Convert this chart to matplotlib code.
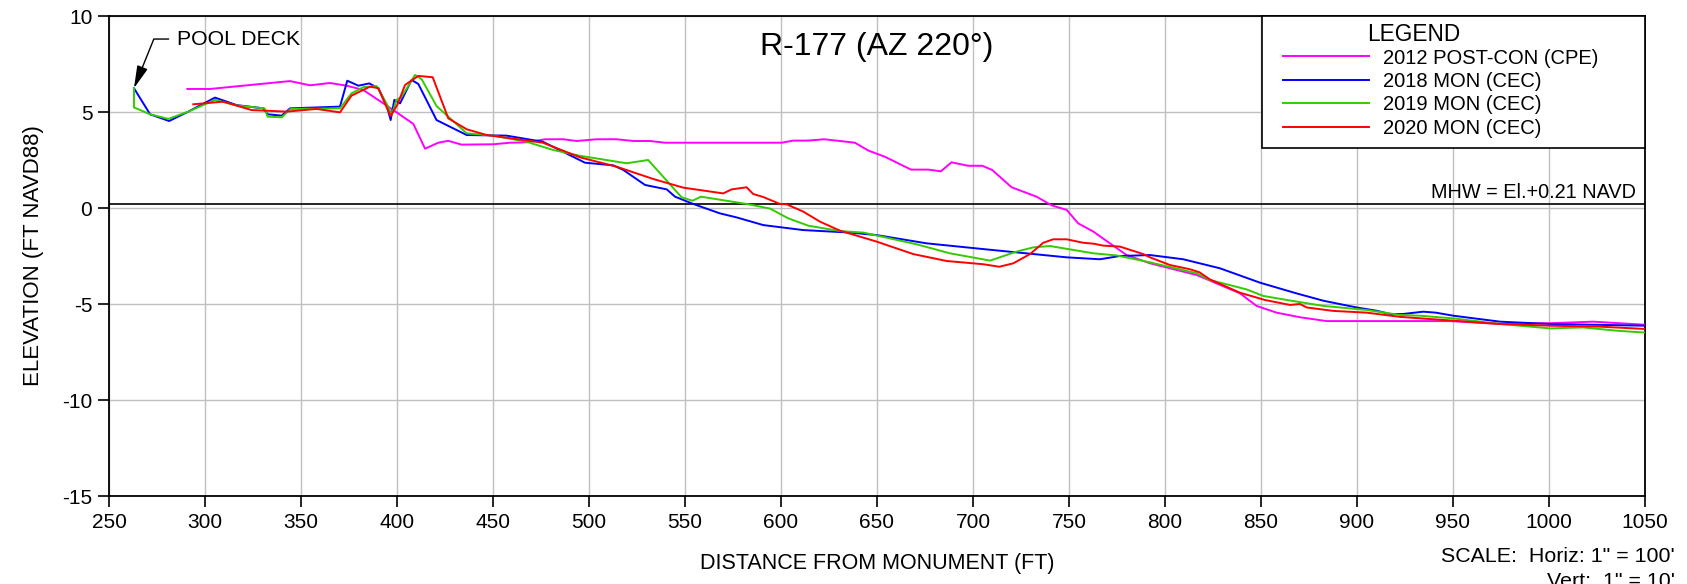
import numpy as np
import matplotlib
matplotlib.use("Agg")
import matplotlib.pyplot as plt
from matplotlib.patches import Rectangle

plt.rcParams["font.family"] = ["Liberation Sans", "DejaVu Sans"]
plt.rcParams["axes.unicode_minus"] = False

# DATA (distance ft, elevation ft NAVD88)
x_2012 = [290.8, 302.6, 344.3, 354.7, 365.1, 373.8, 382.4, 398.1, 408.5, 414.6, 421.5, 426.7,
          433.6, 450.2, 458.9, 467.5, 477.1, 486.7, 493.6, 504.0, 514.4, 523.1, 531.8, 539.6,
          600.3, 606.4, 614.2, 622.4, 630.7, 638.5, 645.5, 654.1, 667.7, 676.7, 683.3, 688.8,
          697.5, 704.8, 710.0, 720.1, 733.1, 740.9, 748.8, 754.8, 762.7, 771.3, 780.0, 792.2,
          816.5, 839.0, 847.7, 858.1, 870.3, 884.2, 948.4, 974.5, 1000.5, 1023.0, 1050.0]
y_2012 = [6.2, 6.2, 6.61, 6.39, 6.51, 6.37, 6.15, 5.1, 4.38, 3.09, 3.4, 3.5,
          3.3, 3.32, 3.4, 3.42, 3.58, 3.58, 3.49, 3.58, 3.58, 3.49, 3.49, 3.4,
          3.4, 3.51, 3.51, 3.58, 3.49, 3.4, 2.99, 2.67, 2.0, 2.0, 1.91, 2.38,
          2.2, 2.2, 1.98, 1.08, 0.59, 0.14, -0.1, -0.8, -1.23, -1.84, -2.45, -2.88,
          -3.49, -4.44, -5.1, -5.45, -5.69, -5.89, -5.89, -6.04, -6.0, -5.92, -6.08]

x_2018 = [263.0, 271.4, 281.3, 291.3, 305.2, 316.5, 330.4, 332.6, 339.9, 344.3, 370.3, 374.1,
          379.9, 385.6, 390.3, 394.6, 396.7, 398.6, 401.6, 407.6, 411.1, 420.6, 436.3, 457.0,
          476.0, 497.9, 512.7, 517.9, 529.2, 540.5, 544.8, 554.3, 568.2, 576.9, 590.8, 611.6,
          635.9, 649.8, 675.8, 705.4, 748.8, 766.1, 776.5, 792.2, 809.5, 828.6, 849.5, 868.6,
          882.5, 899.8, 910.2, 917.2, 924.0, 934.5, 941.0, 950.2, 974.5, 1000.5, 1050.0]
y_2018 = [6.24, 4.88, 4.53, 5.02, 5.75, 5.36, 5.19, 4.88, 4.81, 5.19, 5.28, 6.63,
          6.37, 6.49, 6.23, 5.36, 4.58, 5.63, 5.45, 6.67, 6.46, 4.58, 3.8, 3.77,
          3.45, 2.36, 2.22, 1.98, 1.2, 0.97, 0.59, 0.21, -0.28, -0.49, -0.89, -1.15,
          -1.28, -1.41, -1.84, -2.14, -2.57, -2.67, -2.5, -2.45, -2.67, -3.14, -3.89, -4.45,
          -4.83, -5.18, -5.35, -5.52, -5.52, -5.4, -5.45, -5.61, -5.92, -6.04, -6.13]

x_2019 = [263.0, 263.0, 271.4, 280.9, 291.3, 305.2, 316.5, 331.0, 332.6, 339.9, 344.6, 370.3,
          376.3, 382.4, 389.4, 395.4, 397.2, 399.8, 402.4, 409.4, 412.9, 420.6, 436.3, 450.2,
          467.5, 481.4, 495.3, 519.6, 530.8, 548.2, 553.9, 558.3, 582.1, 594.3, 603.8, 614.2,
          630.7, 642.9, 670.6, 688.0, 708.9, 722.7, 731.4, 740.1, 762.7, 774.8, 792.2, 816.5,
          823.4, 842.5, 851.2, 863.4, 882.5, 905.0, 922.4, 932.8, 950.2, 974.5, 1000.5, 1017.8,
          1035.2, 1050.0]
y_2019 = [6.24, 5.24, 4.88, 4.64, 5.02, 5.63, 5.34, 5.19, 4.76, 4.72, 5.16, 5.19,
          5.97, 6.29, 6.35, 5.28, 4.84, 5.63, 5.8, 6.93, 6.7, 5.31, 3.89, 3.77,
          3.45, 3.02, 2.72, 2.33, 2.5, 0.56, 0.38, 0.59, 0.21, -0.03, -0.54, -0.92,
          -1.2, -1.28, -1.89, -2.36, -2.74, -2.27, -2.05, -1.98, -2.36, -2.47, -2.83, -3.4,
          -3.75, -4.24, -4.58, -4.79, -5.1, -5.31, -5.57, -5.61, -5.75, -6.04, -6.27, -6.22,
          -6.39, -6.49]

x_2020 = [293.9, 309.5, 324.3, 342.5, 358.1, 370.3, 376.3, 385.9, 390.3, 394.3, 396.7, 400.3,
          404.2, 411.1, 418.6, 426.7, 436.3, 446.7, 476.0, 495.3, 514.4, 533.5, 549.1, 569.9,
          574.3, 582.1, 585.5, 590.8, 599.5, 603.0, 611.6, 620.3, 630.7, 649.8, 668.9, 686.3,
          705.4, 713.7, 721.0, 729.7, 736.6, 741.8, 748.8, 757.4, 763.0, 767.8, 776.5, 788.7,
          792.2, 802.6, 813.0, 818.0, 823.4, 839.0, 852.0, 865.1, 870.3, 873.8, 887.7, 905.0,
          922.4, 950.2, 974.5, 1000.5, 1026.6, 1050.0]
y_2020 = [5.4, 5.54, 5.1, 5.02, 5.16, 4.98, 5.85, 6.32, 6.24, 5.31, 4.79, 5.4,
          6.41, 6.88, 6.81, 4.67, 4.1, 3.8, 3.4, 2.64, 2.15, 1.51, 1.06, 0.76,
          0.97, 1.08, 0.73, 0.57, 0.21, 0.19, -0.19, -0.71, -1.18, -1.75, -2.4, -2.76,
          -2.93, -3.06, -2.88, -2.4, -1.81, -1.63, -1.63, -1.81, -1.86, -1.96, -2.01, -2.4,
          -2.57, -2.97, -3.19, -3.35, -3.72, -4.41, -4.79, -5.05, -5.0, -5.18, -5.36, -5.45,
          -5.67, -5.87, -6.04, -6.13, -6.18, -6.3]

labels = ["2012 POST-CON (CPE)", "2018 MON (CEC)", "2019 MON (CEC)", "2020 MON (CEC)"]
colors = ["#ff00ff", "#0000ff", "#33cc00", "#ff0000"]
MHW = 0.21

# PLOT
W, H = 1687, 584
fig = plt.figure(figsize=(W / 100, H / 100), dpi=100)
ax = fig.add_axes([109 / W, (H - 496) / H, 1536 / W, 480 / H])

series = [(x_2012, y_2012), (x_2018, y_2018), (x_2019, y_2019), (x_2020, y_2020)]
for (xs, ys), lab, c in zip(series, labels, colors):
    ax.plot(xs, ys, color=c, lw=1.4, label=lab, zorder=3)

ax.axhline(MHW, color="black", lw=1.2, zorder=2)
ax.text(1045.3, 0.52, "MHW = El.+0.21 NAVD", ha="right", va="baseline", fontsize=14.3)

ax.set_xlim(250, 1050)
ax.set_ylim(-15, 10)
ax.set_xticks(np.arange(250, 1051, 50))
ax.set_yticks(np.arange(-15, 11, 5))
ax.grid(True, color="#c0c0c0", lw=1.0, zorder=0)
ax.tick_params(direction="out", length=8, width=1.2, labelsize=15, pad=4)
for sp in ax.spines.values():
    sp.set_linewidth(1.3)

ax.set_xlabel("DISTANCE FROM MONUMENT (FT)", fontsize=15.5, labelpad=15)
ax.set_ylabel("ELEVATION (FT NAVD88)", fontsize=16, labelpad=13)

ax.text(0.5, 0.935, "R-177 (AZ 220°)", transform=ax.transAxes, ha="center", va="center",
        fontsize=23)

ax.annotate("POOL DECK", xy=(263, 6.24), xytext=(285.4, 8.8), fontsize=15.3, va="center",
            arrowprops=dict(arrowstyle="-|>,head_length=0.9,head_width=0.22", color="black",
                            lw=1.0, shrinkA=4, shrinkB=0,
                            connectionstyle="angle,angleA=0,angleB=68,rad=0"))

# legend box
x0 = (1262 - 109) / 1536
y0 = 1 - (148 - 16) / 480
ax.add_patch(Rectangle((x0, y0), 1 - x0, 1 - y0, transform=ax.transAxes, facecolor="white",
                       edgecolor="black", lw=1.2, zorder=4, clip_on=False))
ax.text((1367 - 109) / 1536, 1 - (34 - 16) / 480, "LEGEND", transform=ax.transAxes,
        ha="left", va="center", fontsize=16.3, zorder=6)
leg = ax.legend(loc="upper left", bbox_to_anchor=((1283 - 109) / 1536, 1 - (48.5 - 16) / 480),
                fontsize=14.5, frameon=False, borderaxespad=0, borderpad=0, handlelength=4.28,
                handletextpad=0.7, labelspacing=0.22)
leg.set_zorder(6)

fig.text(1675 / W, 1 - 562 / H, "SCALE:  Horiz: 1\" = 100'", ha="right", va="baseline",
         fontsize=15.4)
fig.text(1675 / W, 1 - 587 / H, "Vert:  1\" = 10'", ha="right", va="baseline", fontsize=15.4)

fig.savefig("out.png", dpi=100)
